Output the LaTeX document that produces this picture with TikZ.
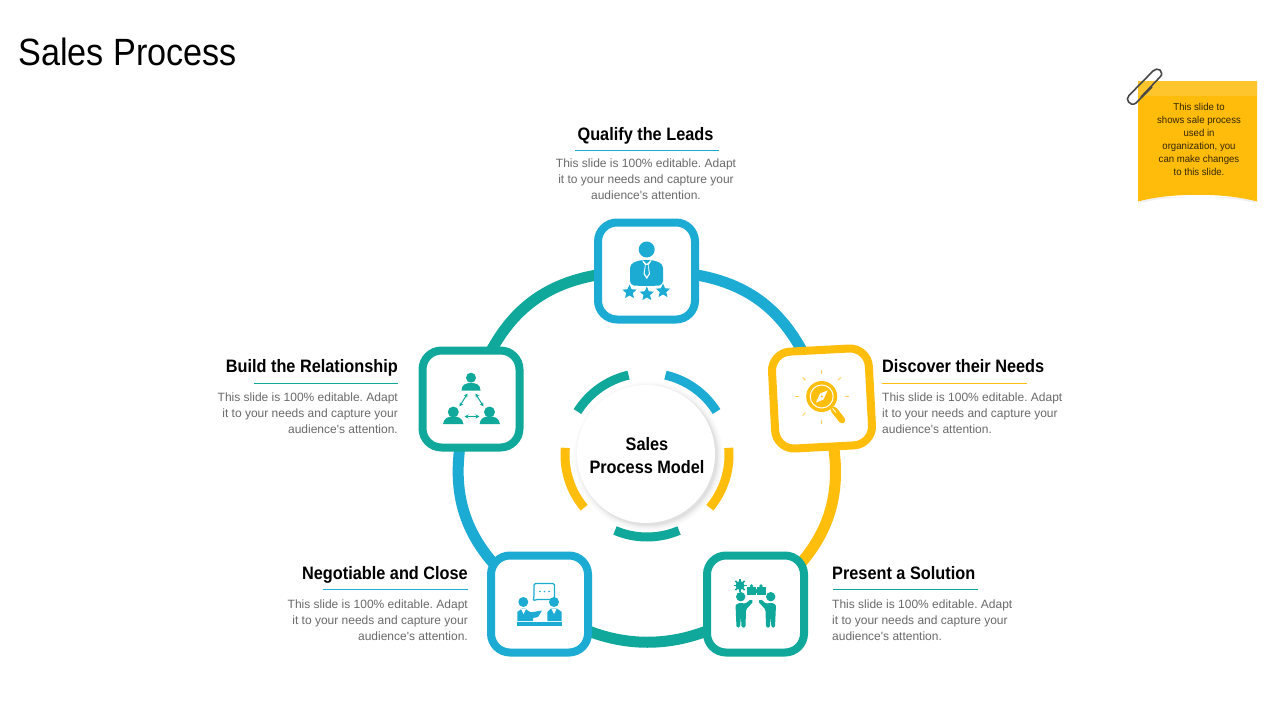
\documentclass[tikz,border=0pt]{standalone}
\usepackage{fontspec}
\setmainfont{Liberation Sans}
\frenchspacing
\newfontfamily\titlef[FakeStretch=0.9]{Liberation Sans}
\newfontfamily\narrow[FakeStretch=0.905]{Liberation Sans}
\newfontfamily\bodyf{Liberation Sans}
\newfontfamily\notef[FakeStretch=0.96]{Liberation Sans}
\usetikzlibrary{arrows.meta,calc}
\definecolor{cblue}{HTML}{1CABD2}
\definecolor{cteal}{HTML}{0FA89B}
\definecolor{cyel}{HTML}{FFBE0B}
\definecolor{cnote}{HTML}{FFBC0A}
\definecolor{cbody}{HTML}{6A6A6A}
\newcommand\fivestar[3]{\fill[#1,shift={(#2)}] (-90:#3) -- (-54:#3*0.46) -- (-18:#3) -- (18:#3*0.46) -- (54:#3) -- (90:#3*0.46) -- (126:#3) -- (162:#3*0.46) -- (198:#3) -- (234:#3*0.46) -- cycle;}
\newcommand\puzzle[2]{\fill[cteal] ($(#1)+(-4.5,-4)$) rectangle ($(#1)+(4.5,4)$);\fill[cteal] ($(#1)+(0,-5)$) circle (1.8);\fill[cteal] ($(#1)+(#2,0)$) circle (1.8);}
\tikzset{
  x=1pt,y=-1pt,
  card/.style={draw=#1,fill=white,line width=8pt,rounded corners=19pt,minimum width=97pt,minimum height=97pt,inner sep=0pt},
  ringarc/.style={draw=#1,line width=11pt,bend left=36},
  heading/.style={font=\narrow\bfseries\fontsize{18}{22}\selectfont,text=black,inner sep=0pt},
  bodytxt/.style={font=\bodyf\fontsize{12}{16}\selectfont,text=cbody,inner sep=0pt,align=#1},
  rulel/.style={draw=#1,line width=1.2pt},
  inner/.style={draw=#1,line width=9pt},
  ray/.style={draw=cyel!70,line width=1pt},
  dbl/.style={draw=cteal,line width=1pt,{Stealth[length=4pt,width=4pt]}-{Stealth[length=4pt,width=4pt]}},
}
\begin{document}
\begin{tikzpicture}
\useasboundingbox (0,0) rectangle (1280,720);
\fill[white] (0,0) rectangle (1280,720);
\node[anchor=west,inner sep=0pt,font=\titlef\fontsize{38}{44}\selectfont,text=black] (title) at (18,52) {Sales Process};

% coordinates of the cards
\coordinate (cq) at (646.5,271);
\coordinate (cd) at (822,398.5);
\coordinate (cp) at (755.5,604);
\coordinate (cn) at (539.5,604);
\coordinate (cb) at (471,399);
% ring
\draw[ringarc=cblue,looseness=1.14] (cq) to (cd);
\draw[ringarc=cyel,looseness=1.14] (cd) to (cp);
\draw[ringarc=cteal,looseness=1.03] (cp) to (cn);
\draw[ringarc=cblue,looseness=1.14] (cn) to (cb);
\draw[ringarc=cteal,looseness=1.14] (cb) to (cq);
% cards
\node[card=cblue] (q) at (cq) {};
\node[card=cyel,rotate=3] (d) at (cd) {};
\node[card=cteal] (p) at (cp) {};
\node[card=cblue] (n) at (cn) {};
\node[card=cteal] (b) at (cb) {};

% centre disc
\foreach \r/\o in {75/.008,74/.01,73/.012,72/.015,71/.02,70/.025,69/.03}{\fill[black,opacity=\o] (648.5,456.5) circle (\r);}
\fill[white] (646,454) circle (69);
\node[font=\narrow\bfseries\fontsize{18}{23}\selectfont,align=center,inner sep=0pt] (centre) at (647,456) {Sales\\Process Model};
% inner segments
\draw[inner=cblue] (647,455) ++(-77:82) arc[start angle=-77,end angle=-32,radius=82];
\draw[inner=cteal] (647,455) ++(-103:82) arc[start angle=-103,end angle=-148,radius=82];
\draw[inner=cyel] (647,455) ++(-5:82) arc[start angle=-5,end angle=40,radius=82];
\draw[inner=cyel] (647,455) ++(185:82) arc[start angle=185,end angle=140,radius=82];
\draw[inner=cteal] (647,455) ++(113:82) arc[start angle=113,end angle=67,radius=82];

% Qualify icon
\fill[cblue] (646.7,249.5) circle (8);
\fill[cblue,rounded corners=4pt] (630,264) -- (640,260) -- (653,260) -- (663,264) -- (663,285) .. controls (655,286) and (638,286) .. (630,285) -- cycle;
\fill[white] (642.5,260) -- (646.8,264) -- (651,260) -- (651,261.5) -- (648.5,265) -- (650,274) -- (646.8,279) -- (643.5,274) -- (645,265) -- (642.5,261.5) -- cycle;
\fill[cblue] (645.7,265) -- (647.9,265) -- (648.8,273.5) -- (646.8,276.5) -- (644.8,273.5) -- cycle;
\fivestar{cblue}{629.5,292}{7.5}
\fivestar{cblue}{646.8,294}{7.5}
\fivestar{cblue}{663,291}{7.5}

% Discover icon
\foreach \a in {0,90,180,270,135,225,315}{\draw[ray] (821.7,396.5) ++(\a:23) -- ++(\a:4);}
\draw[cyel,line width=6.5pt,line cap=round] (834,410) -- (842,420);
\draw[white,line width=.8pt] (832.5,408.5) -- (836,412.5);
\fill[cyel] (821.7,396.5) circle (15.5);
\draw[white,line width=1pt] (821.7,396.5) circle (11.5);
\fill[white] (827.5,390.5) -- (823.5,399.5) -- (816,402.5) -- (820,393.5) -- cycle;
\fill[cyel] (821.7,396.5) circle (1.1);

% Build icon
\fill[cteal] (471,377.7) circle (5);
\fill[cteal] (461.5,390.5) .. controls (461.5,384.5) and (466,383) .. (471,383) .. controls (476,383) and (480.5,384.5) .. (480.5,390.5) -- cycle;
\fill[cteal] (453.3,412) circle (5.5);
\fill[cteal] (443,424) .. controls (444,418) and (448,416.5) .. (453.3,416.5) .. controls (458.5,416.5) and (462.5,418) .. (463.5,424) -- cycle;
\fill[cteal] (489.5,412) circle (5.5);
\fill[cteal] (479.5,424) .. controls (480.5,418) and (484,416.5) .. (489.5,416.5) .. controls (495,416.5) and (499,418) .. (500,424) -- cycle;
\draw[dbl] (467.5,393.5) -- (459.5,406.5);
\draw[dbl] (475.5,393.5) -- (483.5,406.5);
\draw[dbl] (464.5,416.5) -- (479.5,416.5);

% Negotiable icon
\draw[cblue,line width=1.2pt,rounded corners=1.5pt] (534,597) -- (534,583.5) -- (554.5,583.5) -- (554.5,599.5) -- (536,599.5) -- (533,601) -- cycle;
\foreach \x in {540,544.5,549}{\fill[cblue] (\x,591.5) circle (.8);}
\fill[cblue] (523.3,602) circle (5);
\fill[cblue] (554,602) circle (5);
\fill[cblue] (517.3,621) -- (517.3,612) -- (522,608.5) -- (525,608.5) -- (530,612) -- (533,612) -- (542,610.5) -- (538,617) -- (533,618) -- (533,621) -- cycle;
\fill[cblue] (547.3,621) -- (547.3,612) -- (551,608.5) -- (557,608.5) -- (561.7,612) -- (561.7,621) -- cycle;
\fill[white] (521,609) -- (523.5,614) -- (526,609) -- cycle;
\fill[white] (551.5,609) -- (554,614) -- (556.5,609) -- cycle;
\fill[cblue] (516.7,621.8) rectangle (561.7,625.7);

% Present icon
\fill[cteal] (740.7,596.7) circle (4.7);
\fill[cteal] (770.7,596.7) circle (4.7);
\fill[cteal,rounded corners=1.5pt] (735.5,604.5) -- (741,602.5) -- (745,604) -- (751,599) -- (753.5,601.5) -- (746,609.5) -- (745.5,627.5) -- (741.5,627.5) -- (741,616) -- (740,627.5) -- (736.5,627.5) -- cycle;
\fill[cteal,rounded corners=1.5pt] (776,604.5) -- (770.5,602.5) -- (766.5,604) -- (760.5,599) -- (758,601.5) -- (765.5,609.5) -- (766,627.5) -- (770,627.5) -- (770.5,616) -- (771.5,627.5) -- (775,627.5) -- cycle;
\puzzle{751.5,591}{4.5}
\puzzle{761,591}{-4.5}
\fill[cteal] (740,585.5) circle (4.5);
\foreach \a in {0,45,...,315}{\draw[cteal,line width=1.5pt] (740,585.5) -- ++(\a:6.5);}

% headings
\node[heading,anchor=base] (h1) at (645.5,140.5) {Qualify the Leads};
\node[heading,anchor=base west] (h2) at (882,372.5) {Discover their Needs};
\node[heading,anchor=base east] (h5) at (398,372.5) {Build the Relationship};
\node[heading,anchor=base east] (h4) at (468,579.5) {Negotiable and Close};
\node[heading,anchor=base west] (h3) at (832,579.5) {Present a Solution};
\draw[rulel=cblue] (575,150.5) -- (719,150.5);
\draw[rulel=cyel] (882,383.5) -- (1027,383.5);
\draw[rulel=cteal] (254,383.5) -- (398,383.5);
\draw[rulel=cblue] (323,589.5) -- (468,589.5);
\draw[rulel=cteal] (833,589.5) -- (978,589.5);
% bodies
\node[bodytxt=center] (b1) at (646,179.5) {This slide is 100\% editable. Adapt\\it to your needs and capture your\\audience's attention.};
\node[bodytxt=left,anchor=west] (b2) at (882,413.5) {This slide is 100\% editable. Adapt\\it to your needs and capture your\\audience's attention.};
\node[bodytxt=right,anchor=east] (b5) at (398,413.5) {This slide is 100\% editable. Adapt\\it to your needs and capture your\\audience's attention.};
\node[bodytxt=right,anchor=east] (b4) at (468,620.5) {This slide is 100\% editable. Adapt\\it to your needs and capture your\\audience's attention.};
\node[bodytxt=left,anchor=west] (b3) at (832,620.5) {This slide is 100\% editable. Adapt\\it to your needs and capture your\\audience's attention.};

% sticky note
\fill[black!6] (1140,203) .. controls (1170,195) and (1225,195) .. (1255,203) -- (1255,197) -- (1140,197) -- cycle;
\fill[cnote] (1138,81) -- (1257,81) -- (1257,201.5) .. controls (1225,192.5) and (1170,192.5) .. (1138,201.5) -- cycle;
\fill[white,opacity=.14] (1138,81) rectangle (1257,95.5);
\draw[black!72,line width=1.6pt,line join=round] (1152,87) -- (1136,103) .. controls (1133,105.5) and (1130,104) .. (1128.5,102) .. controls (1127,100) and (1127,97.5) .. (1129,95.5) -- (1153,71) .. controls (1155,69) and (1158,68.5) .. (1160,70) .. controls (1162,72) and (1162.5,75) .. (1160,77) -- (1141,97);
\node[font=\notef\fontsize{10}{13}\selectfont,text=black!80!cnote,align=center,inner sep=0pt] (notetext) at (1199,139.5) {This slide to\\shows sale process\\used in\\organization, you\\can make changes\\to this slide.};
\end{tikzpicture}
\end{document}
